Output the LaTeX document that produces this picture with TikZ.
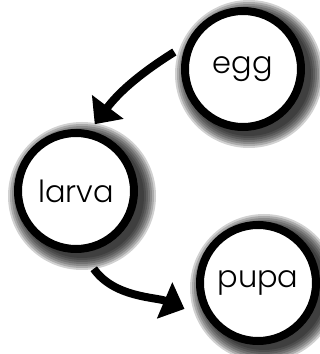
\documentclass[tikz,border=0pt]{standalone}
\usepackage{fontspec}
\setmainfont{Poppins Light}
\usetikzlibrary{arrows.meta,positioning}

\begin{document}
\begin{tikzpicture}[x=0.3mm,y=0.3mm,
  stage/.style={draw=black,circle,fill=white,line width=2.4mm,
        minimum size=34.8mm,inner sep=0pt,font=\fontsize{26}{28}\selectfont},
  cyclearrow/.style={line width=2.4mm,
        -{Triangle[width=11.5mm,length=6.5mm]}}]
  \useasboundingbox (0,0) rectangle (320,354);
  % speckled shadows, lower right of each stage
  \foreach \cx/\cy in {243/285, 76/163, 258/71}{
    \foreach \r in {74,72,...,62}
      \fill[black,opacity=.18] (\cx+6,\cy-5) circle (\r);
  }
  % stages of the cycle
  \node[stage] (egg)   at (243,285) {egg};
  \node[stage] (larva) at (76,163)  {larva};
  \node[stage] (pupa)  at (258,71)  {pupa};
  % arrows
  \draw[cyclearrow,shorten <=4.1mm,shorten >=2.4mm]
    (egg.157) to[out=212,in=53] (larva.77);
  \draw[cyclearrow,shorten <=5.9mm,shorten >=7.4mm]
    (larva.-84) to[out=-55,in=157] (pupa.215);
\end{tikzpicture}
\end{document}
